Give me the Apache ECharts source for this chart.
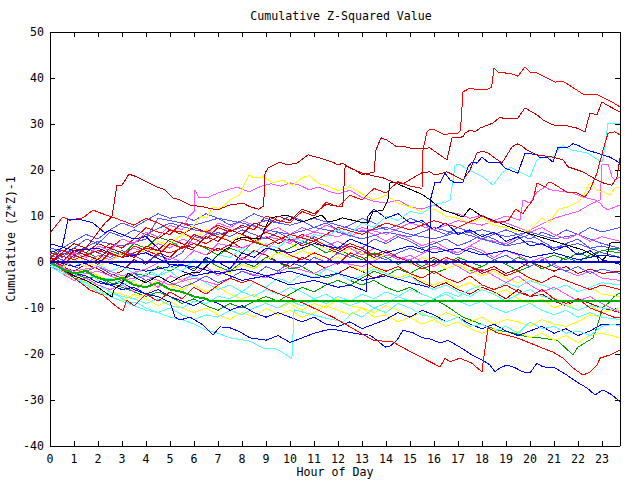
<!DOCTYPE html>
<html><head><meta charset="utf-8">
<script src="https://cdn.jsdelivr.net/npm/echarts@6/dist/echarts.min.js"></script>
<style>html,body{margin:0;padding:0;background:#fff}#c{width:640px;height:480px}#c svg path{shape-rendering:crispEdges}</style>
</head><body><div id="c"></div>
<script>
// x = hour of day, y = cumulative (z*z)-1
const xTicks = [0,1,2,3,4,5,6,7,8,9,10,11,12,13,14,15,16,17,18,19,20,21,22,23];
const yTicks = [-40,-30,-20,-10,0,10,20,30,40,50];

const s01 = [[0,0.5],[0.5,-0.8],[1,1.5],[1.5,0.5],[2,-0.5],[2.5,2],[3,1],[3.5,3.5],[4,2.5],[4.5,1.5],[5,4],[5.5,3],[6,6],[6.5,5],[7,7.5],[7.5,6.5],[8,8],[8.5,7],[9,10],[9.5,9],[10,8.5],[10.5,11],[11,10],[11.5,13],[12,12],[12.5,14.5],[13,13.5],[13.5,16],[14,15],[14.5,17.5],[15,16.5],[15.5,16],[15.54,24.3],[15.71,28.3],[15.83,28.9],[16.04,28.7],[16.46,27.6],[16.67,28.0],[17.0,28.0],[17.1,28.5],[17.21,37],[17.5,37.8],[17.83,37.4],[18.25,37.6],[18.4,38],[18.5,42.2],[18.67,41.3],[19.25,40.9],[19.5,40.4],[19.79,42.4],[20.0,41.3],[20.29,41.1],[21.04,39.1],[21.38,39.3],[22.21,36.5],[22.83,36.3],[23.42,34.8],[23.75,33.7]];
const s02 = [[0,1],[0.5,0],[1,2.5],[1.5,1.5],[2,0.5],[2.5,3],[3,2],[3.5,1],[4,3.5],[4.5,2.5],[5,5],[5.5,4],[6,3],[6.5,5.5],[7,4.5],[7.5,7],[8,6],[8.5,8.5],[9,7.5],[9.5,10],[10,9],[10.5,11.5],[11,10.5],[11.5,12.5],[12.2,12],[12.3,21],[12.7,20],[13,19],[13.5,19.5],[13.58,24.3],[13.79,27],[14.04,26.5],[14.46,25],[14.71,25.2],[15.13,24.6],[15.83,24.8],[16.54,22.2],[16.75,27],[17.21,27.2],[17.29,28],[17.5,28.7],[17.71,28.3],[17.92,29.1],[18.25,29.8],[18.46,30.2],[18.75,31.5],[18.96,31.1],[19.5,31.3],[19.79,33.5],[20.29,32],[20.54,30.9],[20.96,29.8],[21.54,29.6],[21.96,29.1],[22.29,28.3],[22.5,32.4],[22.79,32],[23,34.8],[23.21,34.1],[23.75,32.6]];
const s03 = [[0,0],[0.5,2],[1,4],[1.5,3],[2,6.5],[2.3,8.5],[2.58,9.8],[2.79,16.7],[3.0,16.7],[3.29,19.1],[3.63,18.5],[4.04,17.4],[4.46,16.3],[4.79,15.7],[5.13,13.9],[5.42,13.5],[5.83,12.4],[6.38,12.0],[6.96,11.3],[7.5,12.4],[8.04,12.8],[8.33,12.0],[8.7,11.5],[8.9,12.2],[8.96,19.3],[9.08,20.4],[9.58,21.7],[9.88,21.1],[10.29,21.5],[10.75,23.3],[11.25,22.6],[11.79,21.7],[12,21.1],[12.21,21.5],[12.5,20.4],[13.04,19.3],[13.33,18.9],[13.88,18.3],[14.29,17.4],[14.7,17],[15.2,18.5],[15.5,19.4],[15.83,19.6],[16.04,18.9],[16.54,19.6],[16.67,19.3],[17.21,17.8],[17.5,20],[17.79,23.7],[18,24.1],[18.25,23.7],[18.83,21.5],[19.25,25],[19.46,25.7],[19.67,25.2],[19.88,24.3],[20.29,23.3],[20.96,22.8],[21.38,22.2],[21.58,20.7],[22.21,19.6],[22.79,17.8],[23.04,17.2],[23.42,16.7],[23.63,18.5],[23.75,22.6]];
const s04 = [[0,2],[1,0.5],[2,2.5],[3,1],[4,3],[5,2],[6,4],[7,2.5],[8,5],[9,3.5],[10,6],[11,4.5],[12,7.5],[13,6],[14,8.5],[15,7],[16,9],[17,7.5],[18,10],[18.6,8.5],[19.1,9],[19.4,11.5],[19.7,10.5],[19.9,12],[20.13,13.5],[20.29,17.2],[20.63,16.3],[20.75,17.2],[20.92,17.2],[21.38,15.7],[21.54,15.2],[21.96,15],[22.29,14.1],[22.5,15.7],[22.79,19.3],[23.04,24.3],[23.25,28],[23.54,28.3],[23.75,27.6]];
const s05 = [[0,-1],[0.5,-2.5],[1,-3],[1.5,-2],[2,-4],[2.5,-3.5],[3,-5],[3.5,-4],[4,-2.5],[4.5,-3],[5,-1],[5.5,-2],[6,0.5],[6.5,-0.5],[7,1.5],[7.5,1],[8,3],[8.5,2],[9,4],[9.5,3],[10,5.5],[10.5,4.5],[11,6],[11.5,5.5],[12,7],[12.5,6],[13,8.5],[13.5,7.5],[14,10],[14.5,9],[15,11],[15.5,10.5],[16,12.5],[16.5,13],[16.67,13.5],[16.88,21],[17.08,21.3],[17.29,20.4],[17.63,19.6],[18.04,18.5],[18.46,16.7],[18.83,19.3],[19.17,20.6],[19.58,19.6],[20,18.5],[20.29,22.2],[20.54,22.8],[20.83,22.6],[21.04,23.3],[21.25,25],[21.38,25.4],[21.54,24.8],[21.79,24.3],[22.38,23.7],[23,21.7],[23.04,22.2],[23.25,30.2],[23.75,30.2]];
const s06 = [[0,4],[1,2.5],[2,3],[3,1],[4,2],[5,-0.5],[6,-1],[7,-2.5],[8,-1.5],[9,-3],[10,-2],[11,-3.5],[12,-2.5],[13,-4],[14,-3],[15,-4.5],[15.8,-5.5],[15.85,13.5],[16.04,17.4],[16.25,17.2],[16.46,19.3],[16.67,17.8],[16.88,17.2],[17.21,17.4],[17.42,20.7],[17.58,21.7],[17.79,21.5],[18,22.8],[18.25,21.7],[18.75,21.7],[18.96,20.4],[19.5,19.3],[19.79,23.7],[20.29,23.3],[20.42,22.6],[20.71,22.8],[20.96,21.7],[21.17,25],[21.54,24.8],[21.79,25.7],[22,25.4],[22.38,24.3],[22.79,23.7],[23.33,22.8],[23.75,21.5]];
const s07 = [[0,0],[0.5,-1.5],[1,-3],[1.5,-4],[2,-5.5],[2.58,-7.6],[2.67,-6],[3,-4.6],[3.25,-2.4],[3.6,-3.5],[4,-4.5],[4.5,-3],[5,-4.5],[5.5,-3],[6,-2.2],[6.25,-2.2],[6.79,0.4],[7.08,2],[7.5,3.3],[7.7,4.8],[8.04,5.4],[8.33,5.2],[8.75,5],[9.17,9.6],[9.38,9.8],[9.88,10.2],[10.29,9.1],[10.54,8.7],[10.96,9.6],[11.33,10.2],[11.58,8.7],[11.96,9.1],[12.17,9.6],[12.92,8.7],[13.25,8.5],[13.46,10.9],[13.88,11.3],[14.08,13.5],[14.17,17.2],[14.29,17.4],[14.88,16.1],[15.54,14.6],[15.83,13.5],[16.38,11.3],[17.21,9.8],[17.5,11.7],[17.92,10.2],[18.63,8.7],[19.46,7],[20.13,5.9],[20.83,4.8],[21.54,3.7],[22.21,2.6],[22.79,1.1],[22.92,-0.2],[23.21,1.5],[23.33,4.1],[23.75,4.3]];
const s08 = [[0,-0.5],[1,-2],[2,-1],[3,-3],[4,-1.5],[5,1],[5.5,0],[6,2.5],[6.5,1.5],[7,4],[8,3],[9,5.5],[10,4.5],[11,6.5],[12,5.5],[13,7.5],[14,6],[15,8.5],[16,7],[17,9],[18,8],[19,10],[19.58,9.1],[19.71,13.5],[20,12.8],[20.29,15.2],[20.63,16.3],[20.83,15.7],[21.54,15.2],[21.79,15],[22.21,14.1],[22.71,13.5],[22.92,12.8],[23.04,12],[23.25,11.3],[23.42,11.7],[23.75,12.4]];
const s09 = [[0,1],[0.5,0],[1,2],[1.5,1],[2,3.5],[2.5,2.5],[3,5],[3.5,4],[4,6.5],[4.5,5.5],[5,8],[5.5,7],[5.8,10],[6.0,10.9],[6.04,15.7],[6.2,13.9],[6.6,14.1],[7,15],[7.4,15.7],[7.8,16.3],[8.3,15.2],[8.8,16.5],[9.2,17],[9.6,16.5],[10,17.2],[10.4,16.7],[10.8,15.7],[11.2,16.3],[11.6,15.4],[12,14.8],[12.5,15.6],[13,14],[13.5,13.2],[14,12.8],[14.5,13.5],[15,12],[15.5,11.5],[16,12.4],[16.5,11],[17,10.5],[17.5,9.5],[18,10.2],[18.5,9],[19,8.5],[19.5,7.5],[20,6.5],[20.5,7.5],[21,6],[21.5,5],[22,6],[22.5,4.5],[23,5.5],[23.75,4.5]];
const s10 = [[0,-1],[1,-3],[2,-2],[3,-4],[4,-3],[5,-5],[6,-3.5],[7,-5],[8,-2],[9,-3.5],[10,-1],[11,-2.5],[12,0],[13,-1],[14,1.5],[15,0.5],[16,3],[17,2],[18,5],[19,4],[20,7],[21,9.5],[22,11],[22.5,12.5],[22.92,13.5],[23,21.1],[23.25,21.3],[23.42,18.5],[23.54,17.8],[23.75,18.5]];
const s11 = [[0,0],[0.5,-1.5],[1,0.5],[1.5,-1],[2,1],[2.5,0],[3,2],[3.5,1],[4,3],[4.5,2],[5,4],[5.5,6],[6,8],[6.3,10],[6.5,9.5],[6.8,12],[7.1,11.5],[7.5,13.5],[7.9,14.5],[8.1,17],[8.3,18.9],[8.5,18.3],[8.9,18.5],[9.3,17.2],[9.7,17.8],[10.1,16.7],[10.5,18.3],[10.8,18.8],[11.2,17],[11.6,16.5],[12,15.5],[12.5,16.3],[13,14.8],[13.5,13.5],[14,14.5],[14.5,12.8],[15,12],[15.5,10.9],[16,11.5],[16.5,10],[17,9.5],[17.5,8.5],[18,9.5],[18.5,8],[19,7.5],[19.5,6.5],[20,7],[20.5,9.5],[20.8,8.5],[21.2,11.5],[21.6,12],[22,13],[22.21,14.1],[22.38,16.3],[22.5,17.2],[22.79,15.7],[23.04,15.2],[23.33,14.6],[23.54,16.1],[23.75,16.3]];
const s12 = [[0,0],[0.83,-2.8],[1.67,-6.1],[2.21,-7.2],[2.79,-9.8],[3.04,-10.6],[3.2,-8.3],[3.5,-9.5],[4,-7],[4.5,-8.5],[5,-6.5],[5.5,-8],[6,-5.5],[6.5,-7],[7,-5],[7.5,-3.5],[8,-4.5],[8.33,-3.9],[9.17,-6.1],[9.88,-7.6],[10.54,-8.9],[11.79,-12],[12.5,-14.1],[13.46,-17],[14.29,-17.4],[14.88,-19.1],[15.54,-20.9],[16.25,-22.8],[16.46,-20.9],[16.67,-21.7],[17.08,-20.9],[17.58,-22],[18,-23.9],[18.04,-22],[18.25,-14.3],[18.63,-15.4],[19.04,-15.9],[19.46,-16.5],[20,-17.6],[20.42,-18.5],[20.96,-19.6],[21.38,-20.9],[21.79,-23],[22.21,-24.6],[22.5,-23.9],[22.79,-22.4],[22.92,-20.9],[23.33,-20.2],[23.75,-19.1]];
const s13 = [[0,0],[0.5,-1.5],[1,-2.5],[1.5,-3],[2,-4.5],[2.5,-5],[3,-6],[3.5,-5.5],[4,-7],[4.5,-7.5],[4.79,-8.3],[5,-8.7],[5.21,-12],[5.42,-12.6],[5.83,-12],[6.04,-12.6],[6.38,-13.7],[6.79,-15.9],[7.08,-14.1],[7.5,-14.3],[7.92,-15.2],[8.33,-16.5],[9,-17],[9.5,-16],[10,-17.5],[10.5,-16.5],[11,-15.5],[11.5,-14.8],[11.79,-14.6],[12.38,-15.2],[12.92,-15.7],[13.33,-15.9],[13.62,-17],[13.96,-18.5],[14.17,-18.3],[14.46,-17],[14.71,-14.8],[15.13,-15.4],[15.54,-16.5],[15.83,-16.7],[16.25,-17.6],[16.58,-17],[17.08,-18.5],[17.58,-20.2],[18.13,-21.7],[18.33,-22.4],[18.54,-23.9],[18.75,-23],[19.04,-22.4],[19.38,-23],[19.71,-23.9],[20,-24.1],[20.29,-22],[20.54,-22.8],[21.04,-23],[21.54,-24.6],[21.96,-26.1],[22.38,-27.4],[22.71,-28.9],[23.04,-27.8],[23.42,-28.9],[23.75,-30.4]];
const s14 = [[0,-0.5],[0.5,-2],[1,-3.5],[1.5,-4.5],[2,-6],[2.5,-7],[2.79,-7.2],[3.21,-8.7],[3.63,-8.9],[4,-10],[4.5,-11],[5,-12],[5.5,-12.5],[6,-13.5],[6.5,-14.8],[7,-15.5],[7.5,-16.5],[8.33,-17.2],[8.88,-18.7],[9.29,-18.7],[9.58,-19.3],[10.08,-21],[10.17,-10.4],[10.54,-10.9],[10.96,-11.5],[11.5,-12.2],[12.21,-13],[12.6,-11],[13,-12],[13.5,-10],[14,-11],[14.5,-9],[15,-10],[15.5,-11.5],[16,-12],[16.5,-13],[17,-12],[17.5,-14],[18,-13.5],[18.5,-15],[19,-14],[19.5,-15.5],[20,-13],[20.5,-14.5],[21,-14],[21.5,-15.5],[22,-15],[22.5,-16],[23,-14],[23.5,-13.5],[23.75,-14]];
const s15 = [[0,0],[0.5,-1.5],[1,-2.5],[1.5,-2],[2,-3.5],[2.5,-4],[3,-3.5],[3.5,-5],[4,-5.5],[4.5,-4.5],[5,-6],[5.5,-6.5],[6,-7.5],[6.5,-8],[6.67,-8.5],[23.75,-8.5]];
const s16 = [[0,0],[23.75,0]];
const s17 = [[0,3],[1,2],[2,4.5],[3,3.5],[4,5],[4.5,9.5],[5,9],[6,8],[7,9.5],[8,8.5],[9,7],[10,6],[11,7.5],[12,6.5],[13,5],[14,6.5],[15,5.5],[16,7.5],[17,6],[18,7],[19,5.5],[20,6.5],[21,5],[22,6],[23,4],[23.75,3]];
const s18 = [[0,2],[0.5,1],[1,3],[1.5,5],[2,4],[2.5,6.5],[3,5.5],[3.5,7],[4,6],[5,8.5],[6,7],[7,6],[8,7.5],[9,9],[10,8],[11,9.5],[12,8],[13,6.5],[14,7.5],[15,6],[16,5],[17,6.5],[18,5],[19,3.5],[20,4.5],[21,3],[22,4],[23,2],[23.75,1]];
const s19 = [[0,2],[0.5,3],[0.75,9.3],[1.04,9.3],[1.38,9.1],[1.79,8.5],[2.29,6.3],[2.5,7],[3,6],[3.5,5],[4,5.5],[4.5,3],[5,-1],[5.5,-0.5],[6,-2],[6.5,1],[7,0],[7.5,-1.5],[8,2],[8.5,1],[9,3],[10,2],[11,4],[12,3],[12.5,5],[13,4],[14,2],[15,3.5],[16,2],[17,3],[18,1.5],[19,2.5],[20,1],[21,2],[22,0.5],[23,1.5],[23.75,1]];
const s20 = [[0,6.3],[0.54,9.8],[0.83,9.1],[1.38,9.6],[1.79,11.3],[2.08,10.7],[2.58,9.8],[3,9],[3.5,8],[4,9.5],[4.5,8.5],[5,7],[5.5,6.5],[6,5],[6.5,4],[7,5.5],[7.5,4.5],[8,3],[8.5,2],[9,4],[9.5,3],[10,1.5],[10.5,0.5],[11,2],[11.5,1],[12,-0.5],[12.5,2],[13,1],[13.5,-1],[14,-2],[14.5,-1],[15,-2.5],[15.5,-3.5],[16,-2],[16.5,-3.5],[17,-4.5],[17.5,-3],[18,-5],[18.5,-6],[19,-5],[19.5,-6.5],[20,-7.5],[20.5,-6],[21,-8],[21.5,-9],[22,-8],[22.5,-10],[23,-11],[23.5,-12],[23.75,-12]];
const s21 = [[0,-1],[0.5,-2.5],[1,-4],[1.5,-3.5],[2,-5],[2.5,-6],[3,-5],[3.5,-6.5],[4,-4],[4.5,-5.5],[5,-3],[5.5,-4],[6,-2.5],[6.5,-1],[7,-3],[7.5,-1.5],[8,1],[8.5,0],[9,2.5],[9.5,5],[10,4],[10.5,6],[11,5],[11.5,3.5],[12,4.5],[12.5,3],[13,1.5],[13.5,3],[14,2],[14.5,0.5],[15,1.5],[15.5,0],[16,-1],[16.5,0.5],[17,-1],[17.5,-2.5],[18,-1.5],[18.5,-3],[19,-4.5],[19.5,-3],[20,-5],[20.5,-6.5],[21,-5.5],[21.5,-7],[22,-8.5],[22.5,-7.5],[23,-9],[23.75,-11]];
const s22 = [[0,-0.5],[0.5,-2],[1,-3],[1.5,-4.5],[2,-5],[2.5,-6.5],[3,-7],[3.5,-8],[4,-7],[4.5,-5],[5,-6],[5.5,-3.5],[6,-5],[6.5,-6.5],[7,-5.5],[7.5,-7],[8,-8],[8.5,-7],[9,-9],[9.5,-10],[10,-9],[10.5,-10.5],[11,-9],[11.5,-10],[12,-8],[12.5,-9.5],[13,-10],[13.5,-11],[14,-9.5],[14.5,-10.5],[15,-12],[15.5,-11],[16,-12.5],[16.5,-11],[17,-12],[17.5,-13],[18,-12],[18.5,-13.5],[19,-12.5],[19.5,-13],[20,-14],[20.5,-12.5],[21,-13.5],[21.5,-14],[22,-13],[22.5,-11.5],[23,-12],[23.75,-12.5]];
const s23 = [[0,-1],[0.5,-2],[1,-3.5],[1.5,-4],[2,-3],[2.5,-5],[3,-4],[3.5,-2.5],[4,-3],[4.5,-1],[5,-2],[5.5,-0.5],[6,-1.5],[6.5,0.5],[7,-1],[7.5,-2],[8,0],[8.5,-1],[9,1],[9.5,0],[10,-1.5],[10.5,-1],[11,-2.5],[11.5,-3.5],[12,-2.5],[12.5,-4],[13,-5],[13.5,-4],[14,-5.5],[14.5,-6.5],[15,-5.5],[15.5,-7],[16,-8],[16.5,-9.5],[17.21,-12],[18.63,-14.8],[19.29,-15.4],[19.88,-16.3],[20.42,-16.5],[21.13,-17],[21.79,-20.2],[22,-18.5],[22.63,-16.5],[22.79,-14.1],[23.04,-9.8],[23.33,-8.7],[23.5,-7.5],[23.75,-6.7]];
const s24 = [[0,0.5],[0.5,-1],[1,-2],[1.5,-0.5],[2,-1.5],[2.5,-3],[3,-2],[3.5,0.5],[4,-0.5],[4.5,2],[5,1],[5.5,3.5],[6,2.5],[6.5,1.5],[7,3],[7.5,2],[8,0.5],[8.5,2.5],[9,1.5],[9.5,0],[10,-1],[10.5,1],[11,0],[11.5,-1.5],[12,-2.5],[12.5,-1],[13,-2],[13.5,-3.5],[14,-2.5],[14.5,-4],[15,-3],[15.5,-4.5],[16,-5.5],[16.5,-4.5],[17,-6],[17.5,-7],[18,-5.5],[18.5,-6.5],[19,-8],[19.5,-6],[20,-7.5],[20.5,-7],[21,-8.5],[21.5,-9.5],[22,-8],[22.5,-9],[23,-10],[23.75,-11]];
const s25 = [[0,1],[0.5,0],[1,-1],[1.5,0.5],[2,-0.5],[2.5,-2],[3,-1],[3.5,-2.5],[4,-1.5],[4.5,-3],[5,-2],[5.5,-4],[6,-3],[6.5,-4.5],[7,-6],[7.5,-5],[8,-6.5],[8.5,-4.5],[9,-5.5],[9.5,-3.5],[10,-4.5],[10.5,-2.5],[11,-3.5],[11.5,-1.5],[12,-2.5],[12.5,-4],[13,-3],[13.5,-1.5],[14,-2.5],[14.5,-4],[15,-3],[15.5,-5],[16,-6],[16.5,-5],[17,-6.5],[17.5,-7.5],[18,-6],[18.5,-7],[19,-8.5],[19.5,-7],[20,-6],[20.5,-7.5],[21,-8],[21.5,-9.5],[22,-10.5],[22.5,-9.5],[23,-10],[23.75,-10.5]];
const s26 = [[0,0],[0.5,2],[1,1],[1.5,3],[2,2],[2.5,1],[3,2.5],[3.5,1.5],[4,0],[4.5,1.5],[5,0.5],[5.5,2],[6,5.5],[6.5,5],[7,6.5],[7.5,5.5],[8,7],[8.5,6],[9,5],[9.5,6.5],[10,5],[10.5,4],[11,5.5],[11.5,4.5],[12,3],[12.5,4],[13,3],[13.5,5],[14,4],[14.5,5.5],[15,4.5],[15.5,3],[16,4],[16.5,5],[17,3.5],[17.5,4.5],[18,6],[18.5,5],[19,3.5],[19.5,5],[20,6],[20.5,4.5],[21,3],[21.5,4],[22,5],[22.5,3],[23,3.5],[23.75,2.5]];
const s27 = [[0,1.5],[0.5,0.5],[1,-1],[1.5,-2],[2,-1],[2.5,-2.5],[3,-3.5],[3.5,-2.5],[4,-4],[4.5,-3],[5,-4.5],[5.5,-5.5],[6,-4.5],[6.5,-3],[7,-4.5],[7.5,-3.5],[8,-2],[8.5,-3],[9,-1],[9.5,-2],[10,0],[10.5,-1],[11,1],[11.5,0],[12,2],[12.5,1],[13,2.5],[13.5,1.5],[14,0.5],[14.5,2],[15,3],[15.5,2],[16,3.5],[16.5,2.5],[17,1.5],[17.5,3],[18,2],[18.5,0.5],[19,1.5],[19.5,0],[20,-1],[20.5,0.5],[21,-1],[21.5,-2],[22,-1],[22.5,-2.5],[23,-1.5],[23.75,-2.5]];
const s28 = [[0,0.5],[0.5,-0.5],[1,1],[1.5,0],[2,-1],[2.5,0.5],[3,2],[3.5,1],[4,3],[4.5,4.5],[5,3.5],[5.5,6],[6,5],[6.5,7],[7,6],[7.5,4.5],[8,6],[8.5,5],[9,3.5],[9.5,5],[10,4],[10.5,2.5],[11,4],[11.5,3],[12,1.5],[12.5,3],[13,2],[13.5,0.5],[14,2],[14.5,1],[15,-0.5],[15.5,1],[16,0],[16.5,-1.5],[17,-0.5],[17.5,-2],[18,-3],[18.5,-2],[19,-3.5],[19.5,-4.5],[20,-3.5],[20.5,-5],[21,-6],[21.5,-5],[22,-6.5],[22.5,-5.5],[23,-7],[23.75,-7.5]];
const s29 = [[0,2.5],[0.5,1.5],[1,3],[1.5,2],[2,1],[2.5,2.5],[3,1.5],[3.5,4],[4,3],[4.5,5.5],[5,4.5],[5.5,3],[6,4],[6.5,3],[7,1.5],[7.5,3],[8,2],[8.5,4.5],[9,3.5],[9.5,2],[10,3],[10.5,4.5],[11,3.5],[11.5,2],[12,3],[12.5,1.5],[13,0.5],[13.5,2],[14,1],[14.5,-0.5],[15,0.5],[15.5,-1],[16,-2.5],[16.5,-1.5],[17,-0.5],[17.5,-2],[18,-1],[18.5,0.5],[19,-0.5],[19.5,1],[20,0],[20.5,-1.5],[21,-0.5],[21.5,1],[22,0],[22.5,1.5],[23,2.5],[23.75,3]];
const s30 = [[0,0],[0.5,-1],[1,0.5],[1.5,-0.5],[2,1.5],[2.5,0.5],[3,2],[3.5,3],[4,2],[4.5,4],[5,3],[5.5,5],[6,4],[6.5,6],[7,8.5],[7.5,7.5],[8,9],[8.5,8],[9,6.5],[9.5,7.5],[10,6],[10.5,7.5],[11,6.5],[11.5,8],[12,7],[12.5,5.5],[13,7],[13.5,6],[14,4.5],[14.5,6],[15,5],[15.5,3.5],[16,4.5],[16.5,3],[17,2],[17.5,3.5],[18,2.5],[18.5,1],[19,2.5],[19.5,1.5],[20,0],[20.5,1],[21,-0.5],[21.5,-2],[22,-3],[22.5,-2],[23,-3.5],[23.75,-4]];
const s31 = [[0,1],[0.5,2.5],[1,1.5],[1.5,3],[2,2],[2.5,4],[3,3],[3.5,5],[4,7.5],[4.5,6.5],[5,6],[5.5,8.5],[6,7.5],[6.5,6.5],[7,8],[7.5,7],[8,6],[8.5,5],[9,6.5],[9.5,5.5],[10,4.5],[10.5,6],[11,5],[11.5,3.5],[12,2.5],[12.5,4],[13,3],[13.5,1.5],[14,2.5],[14.5,1],[15,0],[15.5,-1.5],[16,-0.5],[16.5,1],[17,0],[17.5,-1],[18,-2.5],[18.5,-1.5],[19,-3],[19.5,-2],[20,-3.5],[20.5,-4.5],[21,-3],[21.5,-4],[22,-5],[22.5,-6],[23,-5],[23.75,-6]];
const s32 = [[0,-0.5],[0.5,-2],[1,-3],[1.5,-2],[2,-4],[2.5,-5],[3,-4.5],[3.5,-6],[4,-7],[4.5,-6],[5,-7.5],[5.5,-8.5],[6,-9.5],[6.5,-8],[7,-9],[7.5,-10.5],[8,-9.5],[8.5,-11],[9,-12],[9.5,-11],[10,-12],[10.5,-13],[11,-12],[11.5,-13.5],[12,-14],[12.5,-13],[13,-14.5],[13.5,-13.5],[14,-12.5],[14.5,-11],[15,-12],[15.5,-10.5],[16,-11.5],[16.5,-13],[17,-12],[17.5,-13.5],[18,-14.5],[18.5,-13.5],[19,-15],[19.5,-16],[20,-15],[20.5,-14],[21,-15.5],[21.5,-14.5],[22,-16],[22.5,-15],[23,-13.5],[23.75,-13.5]];
const s33 = [[0,0.5],[1,-1],[2,0.5],[3,-1],[4,-2],[5,-1],[6,-3],[7,-2],[8,-4],[9,-3],[10,-5],[11,-4],[12,-5.5],[12.5,-5],[13,-6],[13.2,-6.5],[13.25,10],[13.5,11.5],[14,9.5],[14.5,10.5],[15,8.5],[15.5,9],[16,7],[16.5,8.5],[17,6],[17.5,7],[18,5.5],[18.5,6.5],[19,4.5],[19.5,5.5],[20,3.5],[20.5,4],[21,2.5],[21.5,3.5],[22,1.5],[22.5,2.5],[23,0.5],[23.75,-0.5]];
const s34 = [[0,-0.5],[0.5,-1.5],[1,-3],[1.5,-4],[2,-5],[2.5,-6.5],[3,-7.5],[3.5,-8],[4,-9],[4.5,-8],[5,-9.5],[5.5,-10],[6,-8.5],[6.5,-9],[7,-7.5],[7.5,-8],[8,-6.5],[8.5,-7.5],[9,-6],[9.5,-7],[10,-5.5],[10.5,-6.5],[11,-8],[11.5,-7],[12,-8.5],[12.5,-9.5],[13,-8.5],[13.5,-10],[14,-9],[14.5,-7.5],[15,-8.5],[15.5,-9.5],[16,-8],[16.5,-7],[17,-8.5],[17.5,-9.5],[18,-8.5],[18.5,-10],[19,-11],[19.5,-10],[20,-9],[20.5,-10.5],[21,-11.5],[21.5,-10.5],[22,-12],[22.5,-11],[23,-12],[23.75,-12.5]];
const s35 = [[0,-1],[0.5,-2.5],[1,-3.5],[1.5,-5],[2,-6],[2.5,-7.5],[3,-8.5],[3.5,-7],[4,-8],[4.5,-9.5],[5,-8.5],[5.5,-10],[6,-11],[6.5,-10],[7,-11.5],[7.5,-12.5],[8,-11],[8.5,-12],[9,-10],[9.5,-11.5],[10,-10.5],[10.5,-12],[11,-11],[11.5,-9.5],[12,-10.5],[12.5,-11.5],[13,-10],[13.5,-12],[14,-11.5],[14.5,-13],[15,-12],[15.5,-13.5],[16,-12.5],[16.5,-14],[17,-13],[17.5,-14.5],[18,-15.5],[18.5,-14.5],[19,-16],[19.5,-15],[20,-16.5],[20.5,-15.5],[21,-17],[21.5,-16],[22,-17.5],[22.5,-16],[23,-15.5],[23.75,-16.5]];
const s36 = [[0,0],[0.5,1.5],[1,3],[1.5,2],[2,4],[2.5,3],[3,5],[3.5,4],[4,6],[4.5,5],[5,7],[5.5,6],[6,7.5],[6.5,6.5],[7,5.5],[7.5,7],[8,6],[8.5,4.5],[9,5.5],[9.5,4],[10,5],[10.5,3.5],[11,4.5],[11.5,3],[12,2],[12.5,3.5],[13,2.5],[13.5,1],[14,2],[14.5,0.5],[15,1.5],[15.5,0],[16,1],[16.5,-0.5],[17,0.5],[17.5,-1],[18,-2],[18.5,-1],[19,-2.5],[19.5,-1.5],[20,0],[20.5,-1],[21,-2],[21.5,-1],[22,-2.5],[22.5,-1.5],[23,-2.5],[23.75,-2]];
const s37 = [[0,-0.5],[0.5,-2],[1,-3.5],[1.5,-5],[2,-6.5],[2.5,-7.5],[3,-8.5],[3.5,-9.5],[4,-10.5],[4.5,-11],[5,-10],[5.5,-11.5],[6,-12.5],[6.5,-11.5],[7,-12],[7.5,-10.5],[8,-11.5],[8.5,-10],[9,-9],[9.5,-10],[10,-8.5],[10.5,-9.5],[11,-8],[11.5,-9],[12,-7.5],[12.5,-8.5],[13,-7],[13.5,-8],[14,-6.5],[14.5,-7.5],[15,-6],[15.5,-7],[16,-8],[16.5,-6.5],[17,-7.5],[17.5,-6],[18,-5],[18.5,-6],[19,-4.5],[19.5,-5.5],[20,-4],[20.5,-5],[21,-6],[21.5,-5],[22,-6.5],[22.5,-5.5],[23,-4.5],[23.75,-5]];
const s38 = [[0,0],[0.5,-1],[1,-2.5],[1.5,-3.5],[2,-3],[2.5,-4.5],[3,-5.5],[3.5,-6.5],[4,-7.5],[4.5,-6.5],[5,-7.5],[5.5,-9],[6,-8],[6.5,-9.5],[7,-10.5],[7.5,-9],[8,-10],[8.5,-8.5],[9,-7.5],[9.5,-8.5],[10,-7],[10.5,-5.5],[11,-6.5],[11.5,-5],[12,-4],[12.5,-5],[13,-3.5],[13.5,-2],[14,-3],[14.5,-1.5],[15,-2.5],[15.5,-1],[16,0.5],[16.5,-0.5],[17,1],[17.5,0],[18,-1],[18.5,0.5],[19,-0.5],[19.5,-2],[20,-1],[20.5,0.5],[21,1.5],[21.5,0.5],[22,2],[22.5,1],[23,2.5],[23.75,2]];
const s39 = [[0,1],[0.5,3],[1,4.5],[1.5,6],[2,5],[2.5,7],[3,8.5],[3.5,7.5],[4,9],[4.5,10.5],[5,9.5],[5.5,10],[6,9],[6.5,10.5],[7,9.5],[7.5,8],[8,9],[8.5,10.5],[9,9.5],[9.5,8.5],[10,10],[10.5,9],[11,7.5],[11.5,8.5],[12,7],[12.5,8],[13,9.5],[13.5,8.5],[14,7],[14.5,8],[15,9.5],[15.5,8.5],[16,7],[16.5,6],[17,7.5],[17.5,6.5],[18,5],[18.5,6],[19,7],[19.5,6],[20,5],[20.5,6.5],[21,5.5],[21.5,7],[22,6],[22.5,7.5],[23,6.5],[23.75,7.5]];
const s40 = [[0,0],[0.5,-1.5],[1,-2.5],[1.5,-1.5],[2,-3],[2.5,-4],[3,-3],[3.5,-4.5],[4,-5.5],[4.5,-4],[5,-5],[5.5,-6],[6,-4.5],[6.5,-3],[7,-1.5],[7.5,-2.5],[8,-0.5],[8.5,-1.5],[9,0.5],[9.5,2],[10,1],[10.5,2.5],[11,1.5],[11.5,0],[12,1],[12.5,-0.5],[13,-2],[13.5,-1],[14,-2.5],[14.5,-3.5],[15,-2.5],[15.5,-4],[16,-5],[16.5,-4],[17,-5.5],[17.5,-4.5],[18,-6],[18.5,-7],[19,-6],[19.5,-8],[20,-9],[20.5,-8],[21,-10],[21.5,-9],[22,-10.5],[22.5,-9.5],[23,-11],[23.75,-10]];

const RED='#ff0000', DRED='#c00000', BLUE='#0000ff', LBLUE='#5555ff', CYAN='#55ffff', MAG='#ff55ff', YEL='#ffff00', GRN='#00a000', BLK='#000000';
const lines = [
  [s29,GRN],[s38,GRN],[s23,GRN],[s36,DRED],[s24,DRED],[s28,YEL],[s22,YEL],[s35,YEL],[s40,YEL],[s25,CYAN],[s34,CYAN],[s37,CYAN],[s30,MAG],[s21,MAG],[s10,MAG],
  [s26,LBLUE],[s27,LBLUE],[s17,LBLUE],[s18,LBLUE],[s39,LBLUE],[s31,RED],[s20,RED],[s32,BLUE],[s33,BLUE],[s19,BLUE],
  [s09,MAG],[s08,MAG],[s11,YEL],[s14,CYAN],[s05,CYAN],[s06,BLUE],[s13,BLUE],[s07,BLK],[s04,RED],[s12,RED],[s03,DRED],[s02,DRED],[s01,RED]
];

const font = 'DejaVu Sans Mono';
const series = lines.map(([d,c]) => ({type:'line', data:d, showSymbol:false, silent:true, lineStyle:{color:c,width:1}, itemStyle:{color:c}, z:2}));
series.push({type:'line', data:s15, showSymbol:false, silent:true, lineStyle:{color:'#00b000',width:2}, z:3});
series.push({type:'line', data:s16, showSymbol:false, silent:true, lineStyle:{color:'#0000cc',width:2}, z:3});

const chart = echarts.init(document.getElementById('c'), null, {renderer:'svg'});
const axisCommon = {axisLine:{show:true,onZero:false,lineStyle:{color:'#000',width:1}}, splitLine:{show:false}};
chart.setOption({
  animation:false,
  backgroundColor:'#fff',
  title:{text:'Cumulative Z-Squared Value', left:336, top:5, textAlign:'center', textStyle:{fontFamily:font,fontSize:11.6,fontWeight:'normal',color:'#000'}},
  grid:{left:50,right:20,top:32,bottom:34,containLabel:false,outerBoundsMode:'none'},
  xAxis:[
    Object.assign({type:'value',min:0,max:23.75,interval:1,position:'bottom',name:'Hour of Day',nameLocation:'middle',nameGap:20,nameMoveOverlap:false,
      nameTextStyle:{fontFamily:font,fontSize:11.6,color:'#000'},
      axisTick:{show:true,inside:true,length:5,lineStyle:{color:'#000'}},
      axisLabel:{fontFamily:font,fontSize:11.6,color:'#000',margin:7,showMaxLabel:false,formatter:v=>xTicks.includes(v)?String(v):''}}, axisCommon),
    Object.assign({type:'value',min:0,max:23.75,interval:1,position:'top',
      axisTick:{show:true,inside:true,length:5,lineStyle:{color:'#000'}},axisLabel:{show:false}}, axisCommon)
  ],
  yAxis:[
    Object.assign({type:'value',min:-40,max:50,interval:10,position:'left',name:'Cumulative (Z*Z)-1',nameLocation:'middle',nameGap:33,nameMoveOverlap:false,
      nameTextStyle:{fontFamily:font,fontSize:11.6,color:'#000'},
      axisTick:{show:true,inside:true,length:5,lineStyle:{color:'#000'}},
      axisLabel:{fontFamily:font,fontSize:11.6,color:'#000',margin:6,formatter:v=>yTicks.includes(v)?String(v):''}}, axisCommon),
    Object.assign({type:'value',min:-40,max:50,interval:10,position:'right',
      axisTick:{show:true,inside:true,length:5,lineStyle:{color:'#000'}},axisLabel:{show:false}}, axisCommon)
  ],
  series: series
});
</script></body></html>
